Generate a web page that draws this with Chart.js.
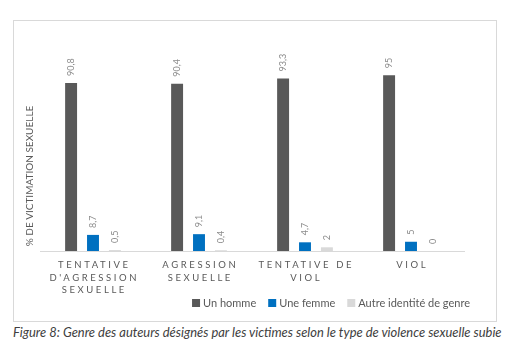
<!DOCTYPE html>
<html>
<head>
<meta charset="utf-8">
<script src="https://cdn.jsdelivr.net/npm/chart.js@4.4.1/dist/chart.umd.min.js"></script>
<style>
  html, body { margin: 0; padding: 0; background: #fff; }
  body { width: 523px; height: 350px; position: relative; overflow: hidden; }
  #box { position: absolute; left: 13px; top: 20px; width: 482px; height: 300px; border: 1px solid #D9D9D9; background: #fff; }
  #box canvas { display: block; }
  #caption { position: absolute; left: 13px; top: 325px; white-space: nowrap; font-family: Lato, "Open Sans", sans-serif; font-style: italic; font-size: 11.5px; color: #404040; line-height: 14px; }
</style>
</head>
<body>
<div id="box"><canvas id="c" width="482" height="300"></canvas></div>
<div id="caption">Figure 8: Genre des auteurs désignés par les victimes selon le type de violence sexuelle subie</div>
<script>
const categories = [
  ["TENTATIVE", "D'AGRESSION", "SEXUELLE"],
  ["AGRESSION", "SEXUELLE"],
  ["TENTATIVE DE", "VIOL"],
  ["VIOL"]
];
const seriesNames = ["Un homme", "Une femme", "Autre identité de genre"];
const unHomme = [90.8, 90.4, 93.3, 95];
const uneFemme = [8.7, 9.1, 4.7, 5];
const autre = [0.5, 0.4, 2, 0];
const yTitle = "% DE VICTIMATION SEXUELLE";
const colors = ["#595959", "#0070C0", "#D9D9D9"];
const FONT = 'Lato, "Open Sans", sans-serif';

const fmt = v => String(v).replace('.', ',');

const customDraw = {
  id: 'customDraw',
  afterDatasetsDraw(chart) {
    const ctx = chart.ctx;
    // data labels
    ctx.save();
    ctx.fillStyle = '#8C8C8C';
    ctx.font = '9px ' + FONT;
    ctx.textAlign = 'left';
    ctx.textBaseline = 'middle';
    chart.data.datasets.forEach((ds, di) => {
      const meta = chart.getDatasetMeta(di);
      meta.data.forEach((bar, i) => {
        ctx.save();
        ctx.translate(bar.x, bar.y - 7);
        ctx.rotate(-Math.PI / 2);
        ctx.fillText(fmt(ds.data[i]), 0, 0);
        ctx.restore();
      });
    });
    ctx.restore();
  },
  afterDraw(chart) {
    const ctx = chart.ctx;
    const xs = chart.scales.x;
    // category labels with letter spacing
    ctx.save();
    ctx.fillStyle = '#595959';
    ctx.font = '9.5px ' + FONT;
    ctx.textAlign = 'center';
    ctx.textBaseline = 'middle';
    const ls = 2.6;
    try { ctx.letterSpacing = ls + 'px'; } catch (e) {}
    categories.forEach((lines, i) => {
      const x = xs.getPixelForTick(i) + ls / 2;
      lines.forEach((ln, k) => {
        ctx.fillText(ln, x, xs.top + 14 + k * 12.5);
      });
    });
    ctx.restore();
    // y axis title
    ctx.save();
    ctx.fillStyle = '#595959';
    ctx.font = '10px ' + FONT;
    ctx.textAlign = 'center';
    ctx.textBaseline = 'middle';
    ctx.translate(16, 155);
    ctx.rotate(-Math.PI / 2);
    ctx.fillText(yTitle, 0, 0);
    ctx.restore();
    // legend
    ctx.save();
    ctx.font = '11px ' + FONT;
    ctx.textBaseline = 'middle';
    ctx.textAlign = 'left';
    const box = 8, gap = 3, itemGap = 12;
    const widths = seriesNames.map(n => box + gap + ctx.measureText(n).width);
    const total = widths.reduce((a, b) => a + b, 0) + itemGap * (seriesNames.length - 1);
    let x = 456 - total;
    const yc = 282;
    seriesNames.forEach((n, i) => {
      ctx.fillStyle = colors[i];
      ctx.fillRect(x, yc - box / 2, box, box);
      ctx.fillStyle = '#595959';
      ctx.fillText(n, x + box + gap, yc + 0.5);
      x += widths[i] + itemGap;
    });
    ctx.restore();
  }
};

new Chart(document.getElementById('c'), {
  type: 'bar',
  data: {
    labels: categories,
    datasets: [
      { label: seriesNames[0], data: unHomme, backgroundColor: colors[0] },
      { label: seriesNames[1], data: uneFemme, backgroundColor: colors[1] },
      { label: seriesNames[2], data: autre, backgroundColor: colors[2] }
    ]
  },
  options: {
    responsive: false,
    animation: false,
    events: [],
    layout: { padding: { top: 45, right: 32, bottom: 25, left: 0 } },
    datasets: { bar: { categoryPercentage: 0.62, barPercentage: 0.545 } },
    plugins: { legend: { display: false }, tooltip: { enabled: false }, title: { display: false } },
    scales: {
      x: {
        grid: { display: false },
        border: { display: true, color: '#D9D9D9', width: 1 },
        ticks: { display: false },
        afterFit(s) { s.height = 45; }
      },
      y: {
        min: 0, max: 100,
        grid: { display: false },
        border: { display: false },
        ticks: { display: false },
        afterFit(s) { s.width = 26; }
      }
    }
  },
  plugins: [customDraw]
});

// fit caption to reference width
(function () {
  const cap = document.getElementById('caption');
  const target = 489;
  const w = cap.getBoundingClientRect().width;
  if (w > 0) cap.style.fontSize = (11.5 * target / w).toFixed(2) + 'px';
})();
</script>
</body>
</html>
